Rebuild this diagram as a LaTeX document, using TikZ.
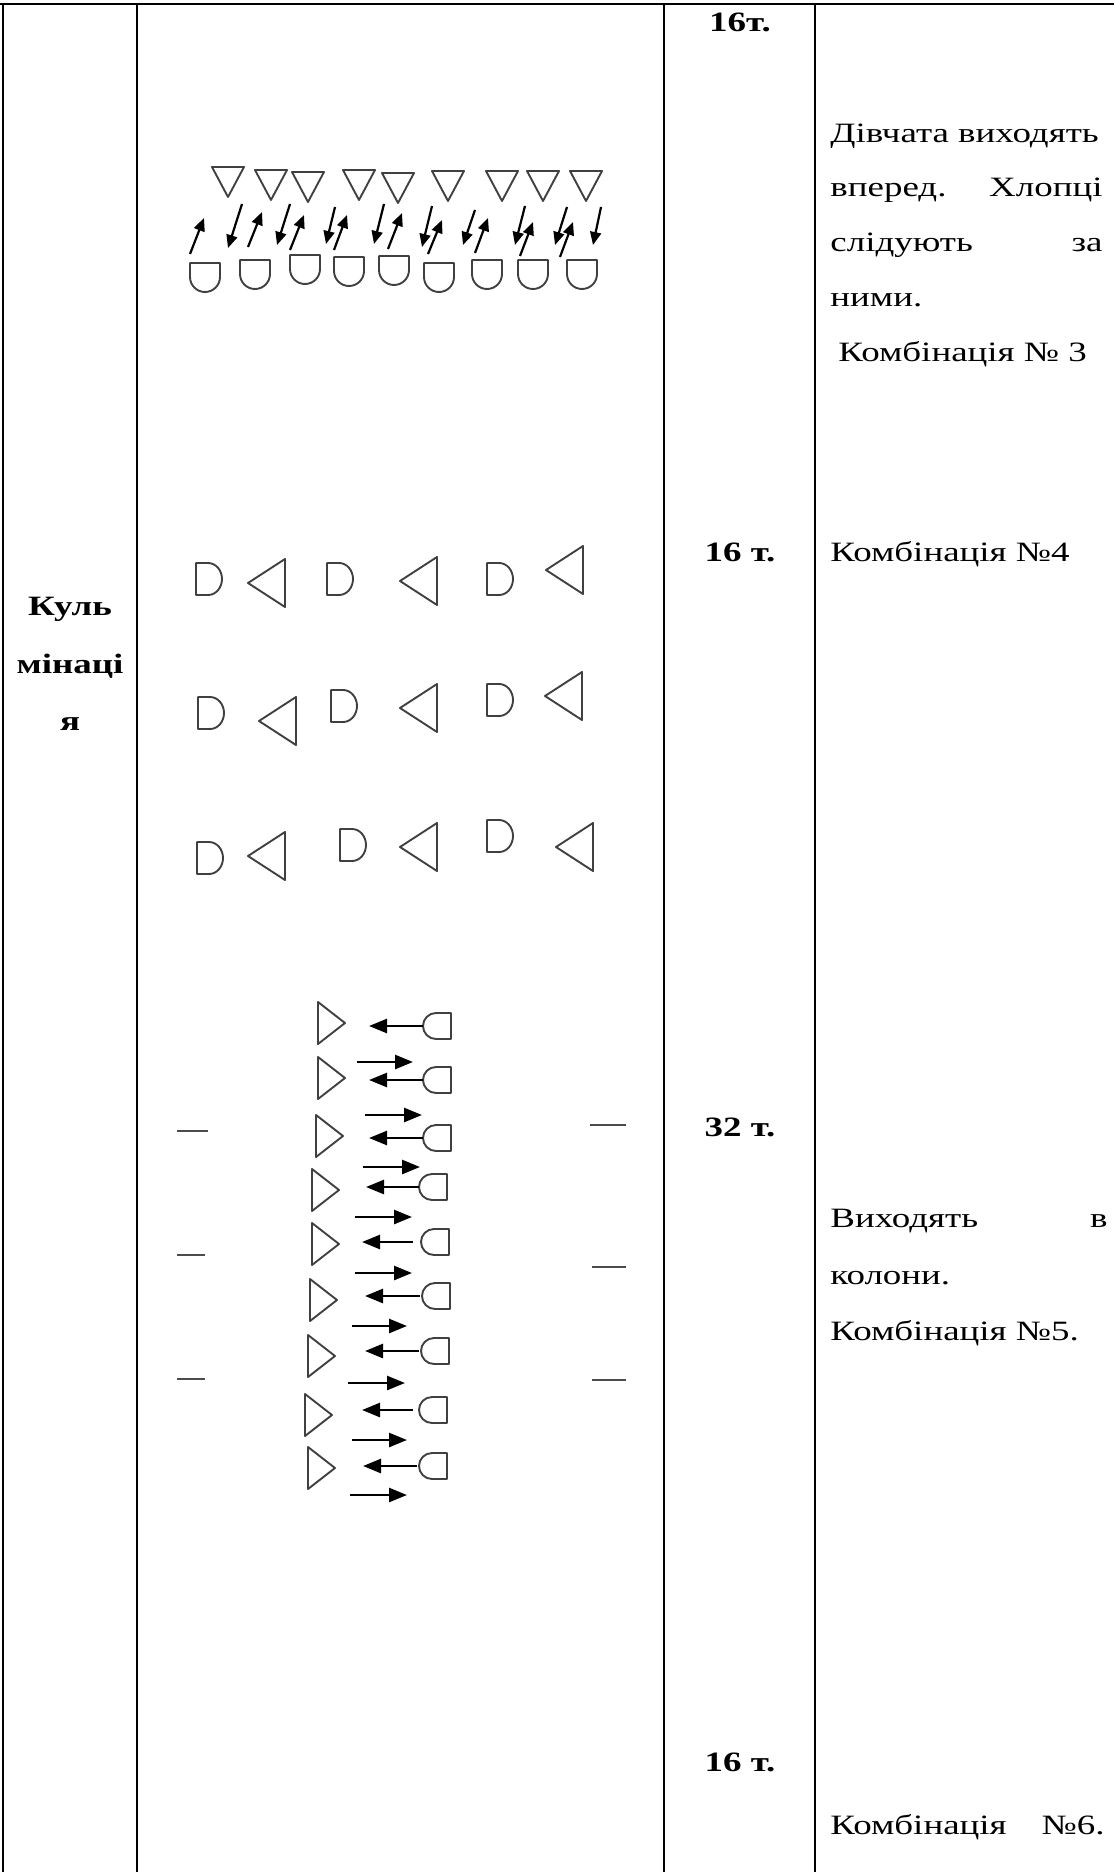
\documentclass[tikz,border=0pt]{standalone}
\usepackage{fontspec}
\setmainfont{Liberation Serif}[FakeStretch=1.32]
\usetikzlibrary{arrows.meta, calc}

%% dancer symbols
\tikzset{
  dancer/.style={draw=black!75, line width=0.95pt, line join=round},
  girlDown/.pic={\draw[dancer] (-16,-15) -- (16,-15) -- (0,15) -- cycle;},
  boyCup/.pic={\draw[dancer] (-15,0) -- (15,0) -- (15,14) arc[start angle=0, end angle=180, radius=15] -- cycle;},
  boyD/.pic={\draw[dancer] (-13,-16) -- (-1,-16) arc[start angle=-90, end angle=90, x radius=14, y radius=16] -- (-13,16) -- cycle;},
  girlLeft/.pic={\draw[dancer] (-19,0) -- (18,-24) -- (18,24) -- cycle;},
  girlRight/.pic={\draw[dancer] (-13,-21) -- (14,0) -- (-13,21) -- cycle;},
  boyBack/.pic={\draw[dancer] (15,-13) -- (0,-13) arc[start angle=-90, end angle=-270, radius=13] -- (15,13) -- cycle;}
}

\begin{document}
\begin{tikzpicture}[x=0.5pt, y=-0.5pt,
  tableLine/.style={line width=1pt, black},
  cellText/.style={inner sep=0pt, anchor=base west, font=\fontsize{14}{16}\selectfont},
  cellTextR/.style={cellText, anchor=base east},
  timeText/.style={inner sep=0pt, anchor=base, font=\fontsize{14}{16}\selectfont\bfseries},
  turnArrow/.style={-{Triangle[length=6.5pt, width=5.5pt]}, line width=1.1pt},
  lineArrow/.style={-{Triangle[length=9pt, width=7pt]}, line width=1.3pt},
  sideMark/.style={line width=1pt, black!70}]

%%Paramaters
%% column positions, can be modified
\def\textLeft{830}
\def\textRight{1103}
\def\timeMid{740}
\def\nameMid{70}

\useasboundingbox (0,0) rectangle (1114,1872);

    %% table
    \draw[tableLine] (0,4) -- (1114,4);
    \draw[tableLine] (3,4) -- (3,1872);
    \draw[tableLine] (137,4) -- (137,1872);
    \draw[tableLine] (664,4) -- (664,1872);
    \draw[tableLine] (815,4) -- (815,1872);

    %% first column
    \node[timeText] (txtKul1) at (\nameMid, 615) {Куль};
    \node[timeText] (txtKul2) at (\nameMid, 673) {мінаці};
    \node[timeText] (txtKul3) at (\nameMid, 730) {я};

    %% time column
    \node[timeText] (time1) at (\timeMid, 32) {16т.};
    \node[timeText] (time2) at (\timeMid, 561) {16 т.};
    \node[timeText] (time3) at (\timeMid, 1136) {32 т.};
    \node[timeText] (time4) at (\timeMid, 1771) {16 т.};

    %% description column
    \node[cellText] (desc1a) at (\textLeft, 143) {Дівчата виходять};
    \node[cellText] (desc1b) at (\textLeft, 197) {вперед.};
    \node[cellTextR] (desc1c) at (\textRight, 197) {Хлопці};
    \node[cellText] (desc1d) at (\textLeft, 252) {слідують};
    \node[cellTextR] (desc1e) at (\textRight, 252) {за};
    \node[cellText] (desc1f) at (\textLeft, 307) {ними.};
    \node[cellText] (comb3) at (\textLeft+8, 362) {Комбінація № 3};

    \node[cellText] (comb4) at (\textLeft, 561) {Комбінація №4};

    \node[cellText] (desc5a) at (\textLeft, 1227) {Виходять};
    \node[cellTextR] (desc5b) at (\textRight+5, 1227) {в};
    \node[cellText] (desc5c) at (\textLeft, 1284) {колони.};
    \node[cellText] (comb5) at (\textLeft, 1340) {Комбінація №5.};

    \node[cellText] (comb6a) at (\textLeft, 1834) {Комбінація};
    \node[cellTextR] (comb6b) at (\textRight+2, 1834) {№6.};


    %% ***Combination 3 : girls in front, boys behind***
    \pic at (228,182) {girlDown};
    \pic at (271,185) {girlDown};
    \pic at (308,187) {girlDown};
    \pic at (359,185) {girlDown};
    \pic at (398,188) {girlDown};
    \pic at (448,186) {girlDown};
    \pic at (502,186) {girlDown};
    \pic at (543,186) {girlDown};
    \pic at (586,186) {girlDown};

    \pic at (205,263) {boyCup};
    \pic at (255,260) {boyCup};
    \pic at (305,255) {boyCup};
    \pic at (349,257) {boyCup};
    \pic at (394,256) {boyCup};
    \pic at (439,263) {boyCup};
    \pic at (487,260) {boyCup};
    \pic at (533,260) {boyCup};
    \pic at (582,260) {boyCup};

    \draw[turnArrow] (190,254) -- (204,218);
    \draw[turnArrow] (242,204) -- (228,248);
    \draw[turnArrow] (248,247) -- (262,212);
    \draw[turnArrow] (290,204) -- (277,245);
    \draw[turnArrow] (290,250) -- (304,215);
    \draw[turnArrow] (335,207) -- (326,244);
    \draw[turnArrow] (334,250) -- (347,215);
    \draw[turnArrow] (384,204) -- (374,244);
    \draw[turnArrow] (388,249) -- (402,213);
    \draw[turnArrow] (432,206) -- (422,247);
    \draw[turnArrow] (428,254) -- (442,220);
    \draw[turnArrow] (475,210) -- (463,245);
    \draw[turnArrow] (475,253) -- (488,218);
    \draw[turnArrow] (525,206) -- (515,245);
    \draw[turnArrow] (520,256) -- (533,222);
    \draw[turnArrow] (567,207) -- (555,245);
    \draw[turnArrow] (560,257) -- (573,222);
    \draw[turnArrow] (601,207) -- (593,245);


    %% ***Combination 4 : three rows of pairs***
    \pic at (209,579) {boyD};
    \pic at (267,583) {girlLeft};
    \pic at (340,579) {boyD};
    \pic at (419,581) {girlLeft};
    \pic at (500,579) {boyD};
    \pic at (565,570) {girlLeft};

    \pic at (211,713) {boyD};
    \pic at (278,721) {girlLeft};
    \pic at (344,706) {boyD};
    \pic at (419,708) {girlLeft};
    \pic at (500,700) {boyD};
    \pic at (564,696) {girlLeft};

    \pic at (210,858) {boyD};
    \pic at (267,856) {girlLeft};
    \pic at (353,845) {boyD};
    \pic at (419,847) {girlLeft};
    \pic at (500,836) {boyD};
    \pic at (575,847) {girlLeft};


    %% ***Combination 5 : two columns***
    \pic at (331,1023) {girlRight};
    \pic at (331,1078) {girlRight};
    \pic at (329,1136) {girlRight};
    \pic at (325,1190) {girlRight};
    \pic at (325,1244) {girlRight};
    \pic at (323,1300) {girlRight};
    \pic at (321,1356) {girlRight};
    \pic at (318,1415) {girlRight};
    \pic at (321,1468) {girlRight};

    \pic at (436,1026) {boyBack};
    \pic at (436,1080) {boyBack};
    \pic at (436,1138) {boyBack};
    \pic at (432,1187) {boyBack};
    \pic at (434,1242) {boyBack};
    \pic at (435,1296) {boyBack};
    \pic at (434,1351) {boyBack};
    \pic at (432,1410) {boyBack};
    \pic at (432,1466) {boyBack};

    \draw[lineArrow] (423,1026) -- (369,1026);
    \draw[lineArrow] (423,1080) -- (369,1080);
    \draw[lineArrow] (423,1138) -- (369,1138);
    \draw[lineArrow] (419,1187) -- (366,1187);
    \draw[lineArrow] (413,1242) -- (362,1242);
    \draw[lineArrow] (420,1296) -- (365,1296);
    \draw[lineArrow] (419,1351) -- (365,1351);
    \draw[lineArrow] (413,1410) -- (362,1410);
    \draw[lineArrow] (417,1466) -- (363,1466);

    \draw[lineArrow] (357,1062) -- (413,1062);
    \draw[lineArrow] (365,1115) -- (422,1115);
    \draw[lineArrow] (363,1167) -- (420,1167);
    \draw[lineArrow] (355,1217) -- (412,1217);
    \draw[lineArrow] (355,1273) -- (412,1273);
    \draw[lineArrow] (352,1326) -- (407,1326);
    \draw[lineArrow] (348,1383) -- (405,1383);
    \draw[lineArrow] (352,1440) -- (407,1440);
    \draw[lineArrow] (350,1495) -- (407,1495);

    %% side marks
    \draw[sideMark] (177,1131) -- (208,1131);
    \draw[sideMark] (177,1255) -- (205,1255);
    \draw[sideMark] (177,1379) -- (205,1379);
    \draw[sideMark] (590,1125) -- (626,1125);
    \draw[sideMark] (592,1267) -- (626,1267);
    \draw[sideMark] (592,1380) -- (626,1380);

\end{tikzpicture}
\end{document}
